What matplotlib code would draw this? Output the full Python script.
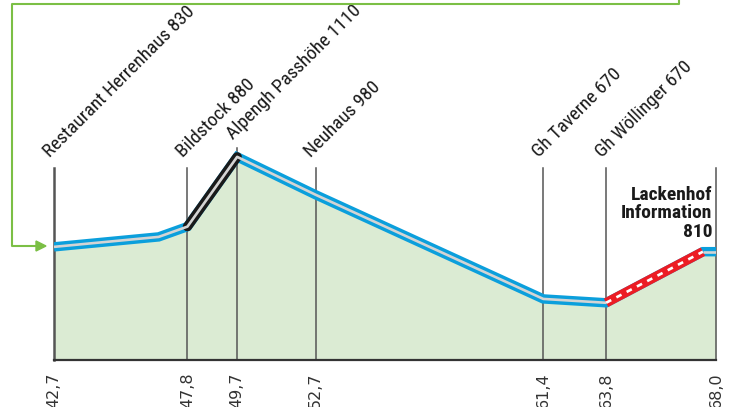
import matplotlib.pyplot as plt
from matplotlib.lines import Line2D
from matplotlib import font_manager

# route profile data (km, elevation in m)
km = [42.7, 46.7, 47.8, 49.7, 52.7, 61.4, 63.8, 67.5, 68.0]
elev = [830, 861, 893, 1110, 992, 668, 656, 815, 815]

# stations on the route
station_km = [42.7, 47.8, 49.7, 52.7, 61.4, 63.8, 68.0]
station_names = ["Restaurant Herrenhaus 830", "Bildstock 880", "Alpengh Passhöhe 1110",
                 "Neuhaus 980", "Gh Taverne 670", "Gh Wöllinger 670", ""]
tick_labels = ["42,7", "47,8", "49,7", "52,7", "61,4", "63,8", "68,0"]
end_label = "Lackenhof\nInformation\n810"

# segment types: index ranges into km/elev
black_seg = (2, 3)   # 47.8 -> 49.7
red_seg = (6, 7)     # 63.8 -> 67.5

fill_col = "#dbebd3"
blue = "#0b9fdc"
red = "#ec1c24"
inner = "#d4d4d4"
green = "#7bbf45"

names = {f.name for f in font_manager.fontManager.ttflist}
narrow = "Roboto"
for cand in ["Roboto Condensed", "Open Sans Condensed", "Liberation Sans Narrow"]:
    if cand in names:
        narrow = cand
        break

fig = plt.figure(figsize=(7.29, 4.07), dpi=100)
ax = fig.add_axes([54 / 729, 47 / 407, 662 / 729, 360 / 407])
ax.set_xlim(42.7, 68.0)
ax.set_ylim(478, 1598)

ax.fill_between(km, elev, 478, color=fill_col, lw=0, zorder=1)

# station lines
for x in station_km:
    top = 1138 if x == 49.7 else 1076
    lw = 1.8 if x == 42.7 else 1.1
    ax.plot([x, x], [478, top], color="#555555", lw=lw, zorder=2, clip_on=False)

# profile line: blue with grey core
lw_out, lw_in = 6.8, 1.9
ax.plot(km, elev, color=blue, lw=lw_out, zorder=3, solid_joinstyle="miter",
        solid_capstyle="butt")
b0, b1 = black_seg
ax.plot(km[b0:b1 + 1], elev[b0:b1 + 1], color="#1a1a1a", lw=lw_out, zorder=4,
        solid_capstyle="round", solid_joinstyle="round")
r0, r1 = red_seg
ax.plot(km[r0:r1 + 1], elev[r0:r1 + 1], color=red, lw=lw_out, zorder=4, solid_capstyle="butt")

ax.plot(km[:r0 + 1], elev[:r0 + 1], color=inner, lw=lw_in, zorder=5, solid_capstyle="butt")
ax.plot(km[r1:], elev[r1:], color=inner, lw=lw_in, zorder=5, solid_capstyle="butt")
ax.plot(km[r0:r1 + 1], elev[r0:r1 + 1], color="white", lw=lw_in, zorder=5,
        dashes=(2.2, 2.2))

# station names
for x, name in zip(station_km, station_names):
    if not name:
        continue
    top = 1138 if x == 49.7 else 1076
    dy = 5.5 if x == 49.7 else 7
    ax.annotate(name, xy=(x, top), xytext=(-3, dy), textcoords="offset points",
                rotation=45, rotation_mode="anchor", ha="left", va="baseline",
                fontsize=13.8, family=narrow, color="#1a1a1a", annotation_clip=False)

ax.text(67.85, 1020, end_label, ha="right", va="top", fontsize=14, family=narrow,
        fontweight="bold", color="#1a1a1a", linespacing=1.05)

ax.set_xticks(station_km)
ax.set_xticklabels(tick_labels, rotation=90, va="top", ha="center",
                   fontsize=11.5, color="#333333")
ax.tick_params(axis="x", length=0, pad=9)
ax.set_yticks([])
for s in ["top", "left", "right"]:
    ax.spines[s].set_visible(False)
ax.spines["bottom"].set_color("#333333")
ax.spines["bottom"].set_linewidth(1.6)
ax.spines["bottom"].set_zorder(6)

# green connector frame with arrow
W, H = 729, 407
pts = [(679, 0), (679, 4), (12, 4), (12, 246), (38, 246)]
fig.add_artist(Line2D([p[0] / W for p in pts], [1 - p[1] / H for p in pts],
                      color=green, lw=1.5))
fig.add_artist(plt.Polygon([(36 / W, 1 - 241 / H), (46 / W, 1 - 246 / H), (36 / W, 1 - 251 / H)],
                           closed=True, color=green, transform=fig.transFigure))

fig.savefig("out.png", dpi=100)
